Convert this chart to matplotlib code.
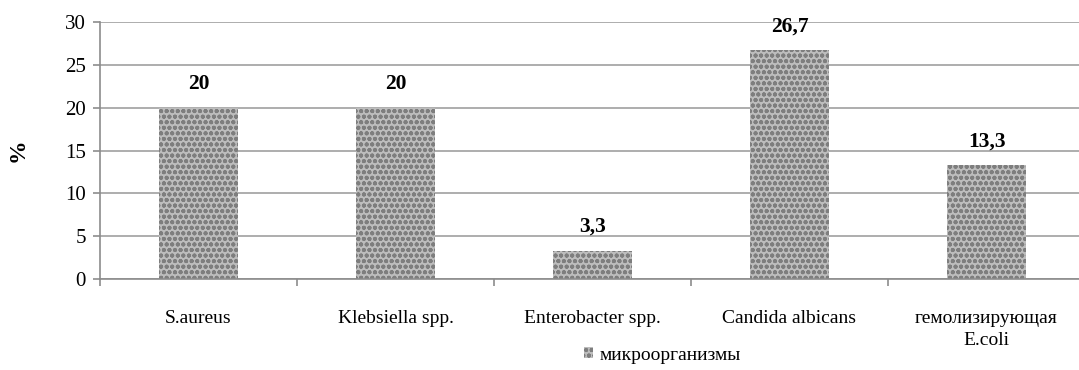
import matplotlib.pyplot as plt
import numpy as np

categories = ['S.aureus', 'Klebsiella spp.', 'Enterobacter spp.', 'Candida albicans', 'гемолизирующая\nE.coli']
values = [20, 20, 3.3, 26.7, 13.3]
value_labels = ['20', '20', '3,3', '26,7', '13,3']
series_name = 'микроорганизмы'

plt.rcParams['font.family'] = ['Liberation Serif', 'DejaVu Serif']
plt.rcParams['hatch.linewidth'] = 1.3
plt.rcParams['hatch.color'] = '#7e7e7e'

fig = plt.figure(figsize=(10.79, 3.70), dpi=100)
ax = fig.add_axes([100/1079, 1-279/370, 985/1079, 257/370])

x = np.arange(len(categories))
bars = ax.bar(x, values, width=0.4, color='#bdbdbd', hatch='ooo',
              edgecolor='#7e7e7e', linewidth=0, label=series_name, zorder=2)

# value labels above the bars
for xi, v, t in zip(x, values, value_labels):
    ax.text(xi, v + 1.6, t, ha='center', va='bottom', fontsize=15.5,
            fontweight='bold', color='black')

ax.set_xlim(-0.5, len(categories) - 0.5)
ax.set_ylim(0, 30)
ax.set_yticks(np.arange(0, 31, 5))
ax.yaxis.grid(True, color='#a0a0a0', lw=1.2, zorder=0)
ax.set_xticks(x)
ax.set_xticklabels(categories, fontsize=14, linespacing=1.45)
ax.set_xticks(np.arange(-0.5, len(categories)), minor=True)
ax.tick_params(axis='x', which='major', length=0, pad=22)
ax.tick_params(axis='x', which='minor', length=5, color='#8c8c8c', width=1.2)
ax.tick_params(axis='y', length=5, color='#8c8c8c', width=1.2, labelsize=15, pad=5)

for s in ['top', 'right']:
    ax.spines[s].set_visible(False)
for s in ['left', 'bottom']:
    ax.spines[s].set_color('#8c8c8c')
    ax.spines[s].set_linewidth(1.2)

ax.set_ylabel('%', fontsize=17, fontweight='bold', labelpad=26)

fig.legend(loc='center', bbox_to_anchor=(662/1079, 1-355/370), frameon=False,
           fontsize=14, handlelength=0.5, handleheight=0.5, handletextpad=0.3)

plt.savefig('out.png', dpi=100)
